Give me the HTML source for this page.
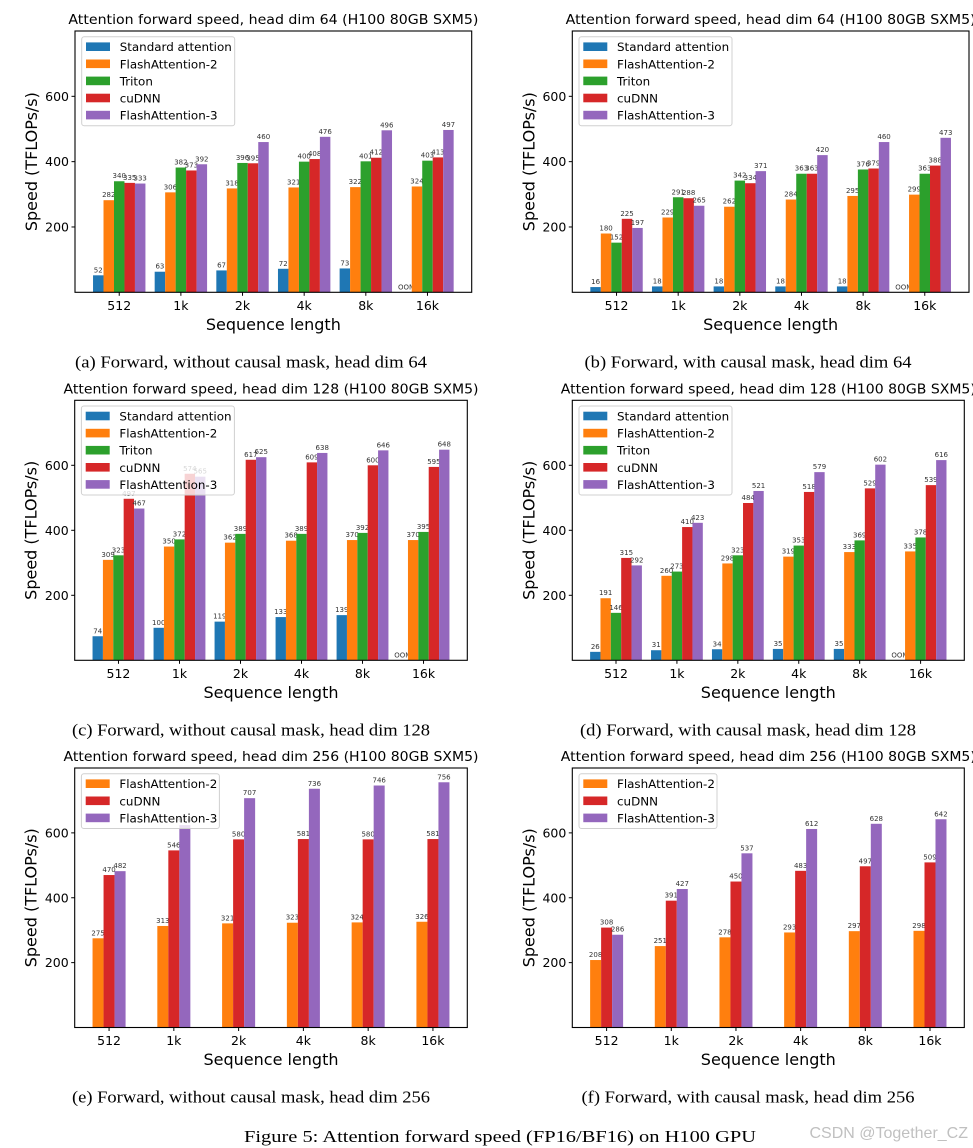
<!DOCTYPE html>
<html><head><meta charset="utf-8"><style>
html,body{margin:0;padding:0;background:#fff;width:973px;height:1148px;overflow:hidden}
svg{display:block}
</style></head><body>
<svg id="fig" width="973" height="1148" xmlns="http://www.w3.org/2000/svg" font-family="DejaVu Sans, Liberation Sans, sans-serif"></svg>
<script>
const categories = ["512","1k","2k","4k","8k","16k"];
const yTicks = [200,400,600];
const seriesNames5 = ["Standard attention","FlashAttention-2","Triton","cuDNN","FlashAttention-3"];
const seriesNames3 = ["FlashAttention-2","cuDNN","FlashAttention-3"];
const colors5 = ["#1f77b4","#ff7f0e","#2ca02c","#d62728","#9467bd"];
const colors3 = ["#ff7f0e","#d62728","#9467bd"];
// panel (a)
const aStd = [52,63,67,72,73,null];
const aFA2 = [282,306,318,321,322,324];
const aTriton = [340,382,396,400,401,403];
const aCudnn = [335,373,395,408,412,413];
const aFA3 = [333,392,460,476,496,497];
// panel (b)
const bStd = [16,18,18,18,18,null];
const bFA2 = [180,229,262,284,295,299];
const bTriton = [152,291,342,363,376,363];
const bCudnn = [225,288,334,363,379,388];
const bFA3 = [197,265,371,420,460,473];
// panel (c)
const cStd = [74,100,119,133,139,null];
const cFA2 = [309,350,362,368,370,370];
const cTriton = [323,372,389,389,392,395];
const cCudnn = [497,574,617,609,600,595];
const cFA3 = [467,565,625,638,646,648];
// panel (d)
const dStd = [26,31,34,35,35,null];
const dFA2 = [191,260,298,319,333,335];
const dTriton = [146,273,323,353,369,378];
const dCudnn = [315,410,484,518,529,539];
const dFA3 = [292,423,521,579,602,616];
// panel (e)
const eFA2 = [275,313,321,323,324,326];
const eCudnn = [470,546,580,581,580,581];
const eFA3 = [482,624,707,736,746,756];
// panel (f)
const fFA2 = [208,251,278,293,297,298];
const fCudnn = [308,391,450,483,497,509];
const fFA3 = [286,427,537,612,628,642];

const NS="http://www.w3.org/2000/svg";
const svg=document.getElementById('fig');
function mk(tag,attrs,parent,text){const e=document.createElementNS(NS,tag);for(const k in attrs)e.setAttribute(k,attrs[k]);if(text!==undefined)e.textContent=text;(parent||svg).appendChild(e);return e;}

const panels=[
 {id:'a',L:75,R:471.7,T:31,B:292.3,hd:64,tw:410,cx:251,cw:352,series:[aStd,aFA2,aTriton,aCudnn,aFA3],names:seriesNames5,cols:colors5,cap:"(a) Forward, without causal mask, head dim 64"},
 {id:'b',L:572.3,R:969,T:31,B:292.3,hd:64,tw:410,cx:748,cw:327,series:[bStd,bFA2,bTriton,bCudnn,bFA3],names:seriesNames5,cols:colors5,cap:"(b) Forward, with causal mask, head dim 64"},
 {id:'c',L:74.7,R:467.3,T:400.3,B:660.3,hd:128,tw:415,cx:251,cw:358,series:[cStd,cFA2,cTriton,cCudnn,cFA3],names:seriesNames5,cols:colors5,cap:"(c) Forward, without causal mask, head dim 128"},
 {id:'d',L:572.3,R:964.3,T:400.3,B:660.3,hd:128,tw:415,cx:748,cw:336,series:[dStd,dFA2,dTriton,dCudnn,dFA3],names:seriesNames5,cols:colors5,cap:"(d) Forward, with causal mask, head dim 128"},
 {id:'e',L:74.7,R:467.3,T:768,B:1027.5,hd:256,tw:415,cx:251,cw:358,series:[eFA2,eCudnn,eFA3],names:seriesNames3,cols:colors3,cap:"(e) Forward, without causal mask, head dim 256"},
 {id:'f',L:572.3,R:964.3,T:768,B:1027.5,hd:256,tw:415,cx:748,cw:333,series:[fFA2,fCudnn,fFA3],names:seriesNames3,cols:colors3,cap:"(f) Forward, with causal mask, head dim 256"}
];
const BW=0.17, YMAX=800;

panels.forEach(p=>{
  const g=mk('g',{});
  
  
  const n=p.series.length;
  const half=n*BW/2, lo=-half, hi=5+half, m=(hi-lo)*0.05;
  const x0=lo-m, x1=hi+m;
  const X=v=>p.L+(v-x0)/(x1-x0)*(p.R-p.L);
  const Y=v=>p.B-v/YMAX*(p.B-p.T);
  const t=mk('text',{x:(p.L+p.R)/2,y:p.T-7,'text-anchor':'middle','font-size':13.5,fill:'#000',textLength:p.tw,lengthAdjust:'spacingAndGlyphs'},g,`Attention forward speed, head dim ${p.hd} (H100 80GB SXM5)`);
  
  
  p.series.forEach((s,si)=>{
    s.forEach((v,ci)=>{
      const xc=ci+(si-(n-1)/2)*BW;
      if(v===null){
        const o=mk('text',{x:X(xc),y:p.B-3,'text-anchor':'middle','font-size':7,fill:'#333'},g,'OOM');
        
        
        return;
      }
      const r=mk('rect',{x:X(xc-BW/2),y:Y(v),width:X(xc+BW/2)-X(xc-BW/2),height:p.B-Y(v),fill:p.cols[si]},g);
      
      
      const l=mk('text',{x:X(xc),y:Y(v)-3,'text-anchor':'middle','font-size':7,fill:'#333'},g,String(v));
      
      
    });
  });
  const f=mk('rect',{x:p.L,y:p.T,width:p.R-p.L,height:p.B-p.T,fill:'none',stroke:'#000','stroke-width':1.1},g);
  
  
  yTicks.forEach(v=>{
    mk('line',{x1:p.L-3.5,x2:p.L,y1:Y(v),y2:Y(v),stroke:'#000','stroke-width':1},g);
    const tl=mk('text',{x:p.L-6,y:Y(v)+4.5,'text-anchor':'end','font-size':12.5},g,String(v));
    
    
  });
  categories.forEach((c,ci)=>{
    mk('line',{x1:X(ci),x2:X(ci),y1:p.B,y2:p.B+3.5,stroke:'#000','stroke-width':1},g);
    const tl=mk('text',{x:X(ci),y:p.B+17.5,'text-anchor':'middle','font-size':12.5},g,c);
    
    
  });
  const xl=mk('text',{x:(p.L+p.R)/2,y:p.B+37.5,'text-anchor':'middle','font-size':16},g,'Sequence length');
  
  
  const yc=(p.T+p.B)/2, yx=p.L-38;
  const yl=mk('text',{x:yx,y:yc,'text-anchor':'middle','font-size':16,transform:`rotate(-90 ${yx} ${yc})`},g,'Speed (TFLOPs/s)');
  
  
  const lw = n===5?153:138, rowH=17.1;
  const lx=p.L+6.7, ly=p.T+5.7, lh=n*rowH+3.5;
  const lg=mk('g',{},g);
  
  
  mk('rect',{x:lx,y:ly,width:lw,height:lh,rx:2.5,fill:'#fff','fill-opacity':0.8,stroke:'#d0d0d0','stroke-width':1},lg);
  p.names.forEach((nm,i)=>{
    const cy=ly+10+i*rowH;
    const e=mk('g',{},lg);
    
    
    mk('rect',{x:lx+4.3,y:cy-4.3,width:24,height:8.6,fill:p.cols[i]},e);
    mk('text',{x:lx+38,y:cy+4.5,'font-size':11.9},e,nm);
  });
  const cp=mk('text',{x:p.cx,y:p.B+75,'text-anchor':'middle','font-size':16.5,'font-family':'Liberation Serif, serif',textLength:p.cw,lengthAdjust:'spacingAndGlyphs'},svg,p.cap);
  
  
});
const fc=mk('text',{x:500,y:1142,'text-anchor':'middle','font-size':17,'font-family':'Liberation Serif, serif',textLength:512,lengthAdjust:'spacingAndGlyphs'},svg,'Figure 5: Attention forward speed (FP16/BF16) on H100 GPU');


const wm=mk('text',{x:968,y:1138,'text-anchor':'end','font-size':16,fill:'#c0c0c0','font-family':'Liberation Sans, sans-serif'},svg,'CSDN @Together_CZ');


</script>
</body></html>
